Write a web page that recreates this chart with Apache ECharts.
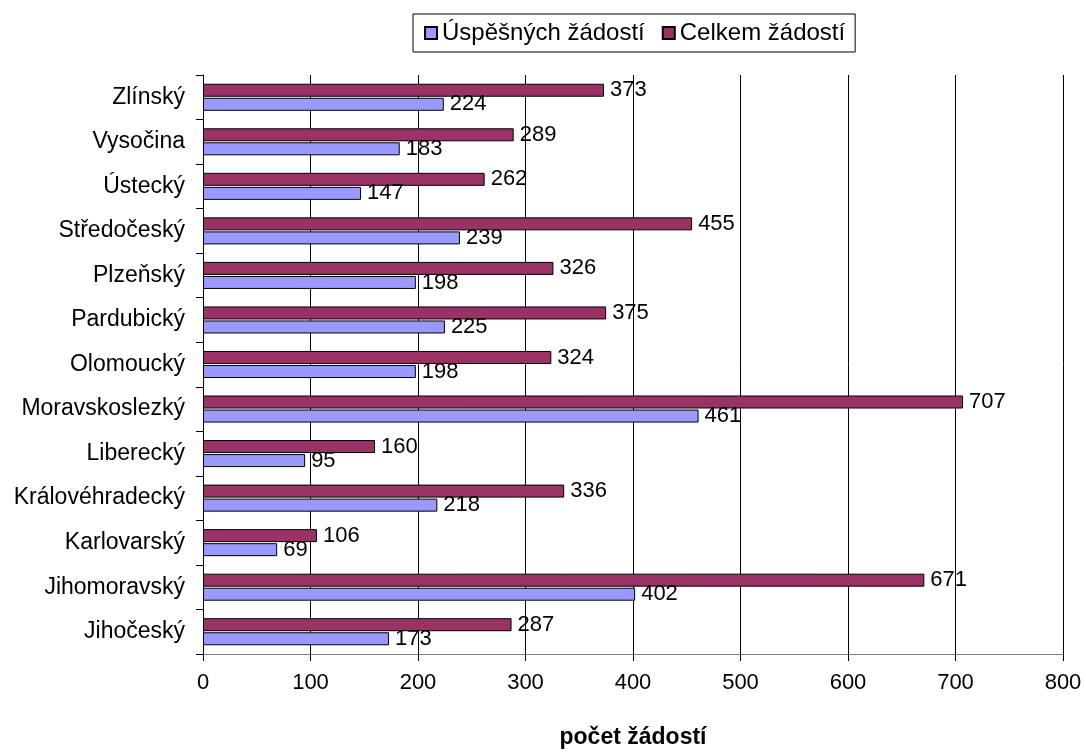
<!DOCTYPE html>
<html><head><meta charset="utf-8">
<script src="https://cdn.jsdelivr.net/npm/echarts@6/dist/echarts.min.js"></script>
<style>html,body{margin:0;padding:0;background:#fff}#c{width:1086px;height:754px}</style>
</head><body><div id="c"></div>
<script>
const categories = ['Jihočeský','Jihomoravský','Karlovarský','Královéhradecký','Liberecký','Moravskoslezký','Olomoucký','Pardubický','Plzeňský','Středočeský','Ústecký','Vysočina','Zlínský'];
const uspesnych = [173,402,69,218,95,461,198,225,198,239,147,183,224];
const celkem = [287,671,106,336,160,707,324,375,326,455,262,289,373];
const seriesNames = ['Úspěšných žádostí','Celkem žádostí'];
const xTicks = {min:0, max:800, interval:100};

const font = 'Liberation Sans, Arial, sans-serif';
const fs = 22;
const chart = echarts.init(document.getElementById('c'));
chart.setOption({
  animation:false,
  textStyle:{fontFamily:font},
  legend:{
    data:seriesNames, top:14, left:413,
    borderColor:'#000', borderWidth:1, padding:[7,10,7,11],
    icon:'rect', itemWidth:12, itemHeight:12, itemGap:17,
    textStyle:{fontSize:24, color:'#000', fontFamily:font}
  },
  grid:{left:203, right:23, top:75, bottom:90, containLabel:false},
  xAxis:{
    type:'value', min:xTicks.min, max:xTicks.max, interval:xTicks.interval,
    name:'počet žádostí', nameLocation:'middle', nameGap:72,
    nameTextStyle:{fontSize:23, fontWeight:'bold', color:'#000', fontFamily:font},
    axisLine:{show:true, lineStyle:{color:'#808080', width:1}},
    axisTick:{show:true, length:7, lineStyle:{color:'#000'}},
    axisLabel:{fontSize:fs, color:'#000', margin:18, fontFamily:font},
    splitLine:{show:true, lineStyle:{color:'#000', width:1}}
  },
  yAxis:{
    type:'category', data:categories,
    axisLine:{show:true, lineStyle:{color:'#000', width:1}},
    axisTick:{show:true, length:7, lineStyle:{color:'#000'}},
    axisLabel:{fontSize:23, color:'#000', margin:18, fontFamily:font},
    splitLine:{show:false}
  },
  series:[
    {name:seriesNames[1], type:'bar', data:celkem, barWidth:13, barGap:'8%', barCategoryGap:'40%',
     itemStyle:{color:'#993366', borderColor:'#000', borderWidth:1},
     label:{show:true, position:'right', distance:6, fontSize:fs, color:'#000', fontFamily:font}},
    {name:seriesNames[0], type:'bar', data:uspesnych, barWidth:13,
     itemStyle:{color:'#9999FF', borderColor:'#000', borderWidth:1},
     label:{show:true, position:'right', distance:6, fontSize:fs, color:'#000', fontFamily:font}}
  ]
});
</script></body></html>
